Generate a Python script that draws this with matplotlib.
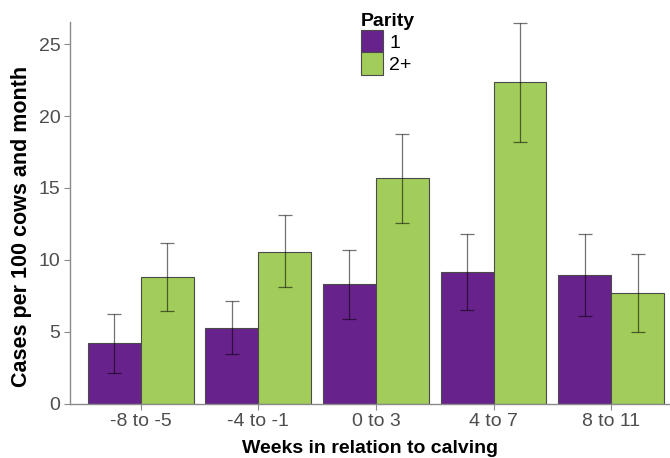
import matplotlib.pyplot as plt
import numpy as np
from matplotlib.patches import Patch

plt.rcParams["font.family"] = ["Liberation Sans", "DejaVu Sans"]

# Incidence per 100 cows and month by parity group
periods = ["-8 to -5", "-4 to -1", "0 to 3", "4 to 7", "8 to 11"]
parity_labels = ["1", "2+"]

rate_p1 = [4.18, 5.24, 8.30, 9.15, 8.97]
low_p1 = [2.10, 3.42, 5.89, 6.51, 6.10]
high_p1 = [6.24, 7.12, 10.66, 11.82, 11.77]

rate_p2 = [8.80, 10.57, 15.68, 22.40, 7.70]
low_p2 = [6.47, 8.11, 12.56, 18.23, 4.99]
high_p2 = [11.15, 13.10, 18.78, 26.50, 10.43]

colors = ["#68228B", "#A2CD5A"]

fig = plt.figure(figsize=(6.7, 4.58), dpi=100)
ax = fig.add_axes([70 / 670, 54.5 / 458, 600 / 670, 381.5 / 458])

x = np.arange(len(periods))
width = 0.45
series = [(rate_p1, low_p1, high_p1), (rate_p2, low_p2, high_p2)]
for i, (rate, low, high) in enumerate(series):
    pos = x + (i - 0.5) * width
    rate = np.array(rate)
    ax.bar(pos, rate, width=width, color=colors[i], edgecolor="#4a4a4a",
           linewidth=0.8, zorder=2)
    yerr = [rate - np.array(low), np.array(high) - rate]
    ax.errorbar(pos, rate, yerr=yerr, fmt="none", ecolor="#000000",
                alpha=0.55, elinewidth=0.9, capsize=5, capthick=0.9, zorder=3)

ax.set_xlim(-0.6, 4.5)
ax.set_ylim(0, 26.55)
ax.set_xticks(x)
ax.set_xticklabels(periods)
ax.set_yticks([0, 5, 10, 15, 20, 25])

for side in ["top", "right"]:
    ax.spines[side].set_visible(False)
for side in ["left", "bottom"]:
    ax.spines[side].set_color("#8a8a8a")
    ax.spines[side].set_linewidth(1.0)
ax.tick_params(axis="both", colors="#8a8a8a", labelcolor="#4D4D4D",
               labelsize=14, length=4, width=0.8, pad=3)

ax.set_xlabel("Weeks in relation to calving", fontsize=14, fontweight="bold",
              labelpad=7)
ax.set_ylabel("Cases per 100 cows and month", fontsize=15.5, fontweight="bold")
ax.yaxis.set_label_coords(-0.064, 0.465)

handles = [Patch(facecolor=c, edgecolor="#4a4a4a", linewidth=0.8) for c in colors]
leg = ax.legend(handles, parity_labels, title="Parity", loc="upper left",
                bbox_to_anchor=(361 / 670, 1 - 13 / 458),
                bbox_transform=fig.transFigure, frameon=False, fontsize=14,
                handlelength=1.15, handleheight=1.4, handletextpad=0.3,
                labelspacing=0.0, borderpad=0, borderaxespad=0,
                alignment="left")
leg.get_title().set_fontweight("bold")
leg.get_title().set_fontsize(14)

fig.savefig("out.png", dpi=100)
